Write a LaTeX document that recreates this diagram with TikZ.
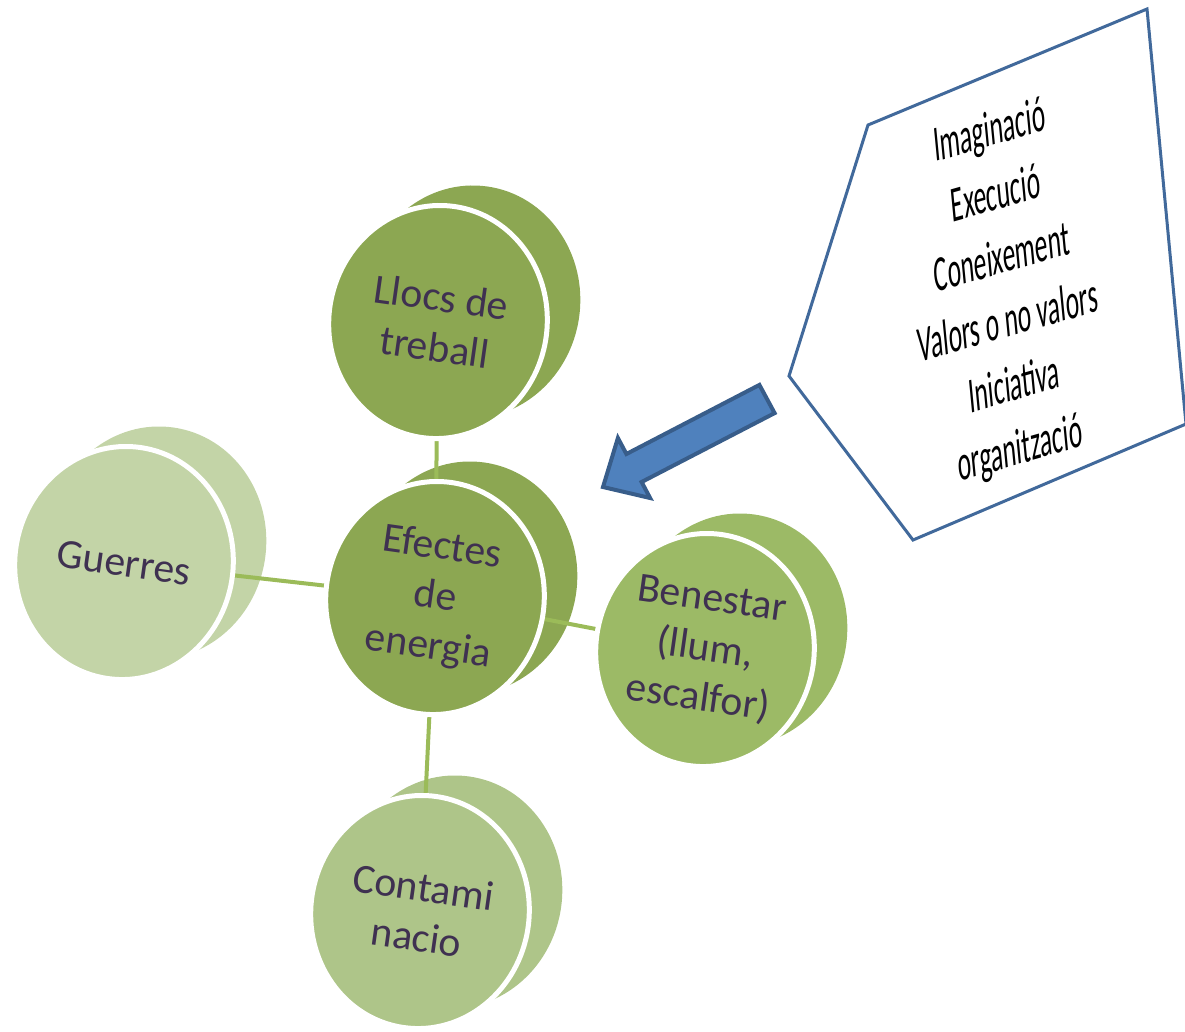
\documentclass[tikz,border=0pt]{standalone}
\usepackage{fontspec}
\setmainfont{Carlito}
\usetikzlibrary{shapes.geometric}
\definecolor{txt}{HTML}{3F3151}
\definecolor{olivedark}{HTML}{8CA752}
\definecolor{olivemid}{HTML}{9CBA66}
\definecolor{olivelight}{HTML}{AEC589}
\definecolor{olivepale}{HTML}{C3D4A7}
\definecolor{linkgreen}{HTML}{9BBB59}
\definecolor{arrowfill}{HTML}{4F81BD}
\definecolor{arrowline}{HTML}{385D8A}
\definecolor{boxline}{HTML}{41699B}
\pgfdeclarelayer{back}
\pgfdeclarelayer{mid}
\pgfsetlayers{back,mid,main}
\tikzset{
  disk/.style={ellipse, fill=#1, draw=white, line width=3pt, minimum width=131pt,
    minimum height=140pt, rotate=-8, text=txt, align=center, inner sep=0pt,
    font=\fontsize{25}{30}\selectfont},
  diskback/.style={ellipse, fill=#1, minimum width=131pt, minimum height=140pt, rotate=-8},
  link/.style={draw=linkgreen, line width=2.4pt},
}
\begin{document}
\begin{tikzpicture}[x=0.6pt,y=-0.6pt]
  \useasboundingbox (0,0) rectangle (1185,1031);
  % front disks
  \node[disk=olivedark]  (llocs)   at (438,322) {Llocs de\\treball};
  \node[disk=olivedark]  (efectes) at (435,598) {Efectes\\de\\energia};
  \node[disk=olivepale]  (guerres) at (124,563) {Guerres};
  \node[disk=olivemid]   (benestar) at (705,650) {Benestar\\(llum,\\escalfor)};
  \node[disk=olivelight] (contam)  at (420,912) {Contami\\nacio};
  % back of the disks
  \begin{pgfonlayer}{back}
    \foreach \n/\c in {llocs/olivedark, efectes/olivedark, guerres/olivepale,
                       benestar/olivemid, contam/olivelight}
      \node[diskback=\c] at ([shift={(33,-20)}]\n.center) {};
  \end{pgfonlayer}
  % links
  \begin{pgfonlayer}{mid}
    \foreach \n in {llocs, guerres, benestar, contam}
      \draw[link] (efectes.center) -- (\n.center);
  \end{pgfonlayer}
  % pentagon with the list
  \draw[boxline, line width=1.8pt, fill=white, line join=miter]
    (868,125) coordinate (p1) -- (1147,9) coordinate (p2) -- (1186,424) coordinate (p3)
    -- (913,540) coordinate (p4) -- (789,376) coordinate (p5) -- cycle;
  \node[cm={0.63,0.18,-0.12,1.25,(0,0)}, align=center, font=\fontsize{24}{30.5}\selectfont]
    (lista) at (1005,292) {Imaginació\\Execució\\Coneixement\\Valors o no valors\\Iniciativa\\organització};
  % block arrow
  \draw[arrowline, line width=2.4pt, fill=arrowfill, line join=miter]
    (759.4,384.9) -- (626.4,454) -- (617.9,438) -- (603,487) -- (650.1,498)
    -- (641.6,482) -- (774.6,413.1) -- cycle;
\end{tikzpicture}
\end{document}
